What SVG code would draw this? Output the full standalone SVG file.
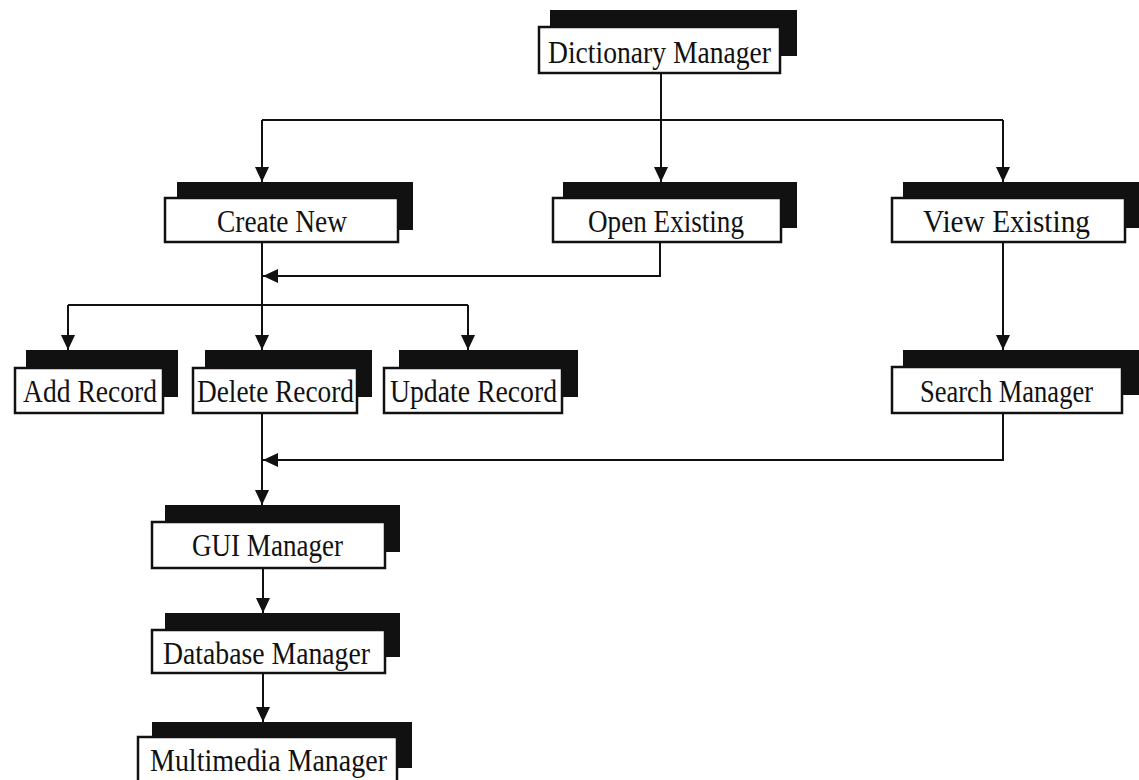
<svg xmlns="http://www.w3.org/2000/svg" width="1139" height="780" viewBox="0 0 1139 780">
<style>
.sh{fill:#111;}
.bx{fill:#fff;stroke:#111;stroke-width:2.5;}
.t{font-family:"Liberation Serif","Times New Roman",serif;font-size:32px;fill:#111;text-anchor:start;}
.c{fill:none;stroke:#111;stroke-width:2;}
</style>
<defs>
<marker id="ah" markerUnits="userSpaceOnUse" markerWidth="16" markerHeight="14" refX="15" refY="7" orient="auto">
<path d="M0,0 L15,7 L0,14 z" fill="#111"/>
</marker>
</defs>
<rect width="1139" height="780" fill="#fff"/>
<g id="connectors">
<path class="c" d="M661,73 V120"/>
<path class="c" d="M262,120 H1003"/>
<path class="c" d="M262,120 V182" marker-end="url(#ah)"/>
<path class="c" d="M661,120 V182" marker-end="url(#ah)"/>
<path class="c" d="M1003,120 V182" marker-end="url(#ah)"/>
<path class="c" d="M262,242 V350" marker-end="url(#ah)"/>
<path class="c" d="M660,242 V276 H263" marker-end="url(#ah)"/>
<path class="c" d="M68,305 H468"/>
<path class="c" d="M68,305 V350" marker-end="url(#ah)"/>
<path class="c" d="M468,305 V350" marker-end="url(#ah)"/>
<path class="c" d="M1003,242 V350" marker-end="url(#ah)"/>
<path class="c" d="M262,413 V505" marker-end="url(#ah)"/>
<path class="c" d="M1003,413 V460 H263" marker-end="url(#ah)"/>
<path class="c" d="M263,568 V613" marker-end="url(#ah)"/>
<path class="c" d="M263,673 V722" marker-end="url(#ah)"/>
</g>
<g id="dictionary-manager">
<rect class="sh" x="550" y="10" width="247" height="46"/>
<rect class="bx" x="539" y="27" width="241" height="46"/>
<text class="t" x="548" y="63" textLength="223" lengthAdjust="spacingAndGlyphs">Dictionary Manager</text>
</g>
<g id="create-new">
<rect class="sh" x="177" y="182" width="236" height="48"/>
<rect class="bx" x="165" y="198" width="233" height="44"/>
<text class="t" x="217" y="232" textLength="130" lengthAdjust="spacingAndGlyphs">Create New</text>
</g>
<g id="open-existing">
<rect class="sh" x="563" y="182" width="234" height="46"/>
<rect class="bx" x="553" y="198" width="228" height="44"/>
<text class="t" x="588" y="232" textLength="156" lengthAdjust="spacingAndGlyphs">Open Existing</text>
</g>
<g id="view-existing">
<rect class="sh" x="903" y="182" width="236" height="46"/>
<rect class="bx" x="892" y="198" width="233" height="44"/>
<text class="t" x="923" y="232" textLength="167" lengthAdjust="spacingAndGlyphs">View Existing</text>
</g>
<g id="add-record">
<rect class="sh" x="26" y="350" width="152" height="47"/>
<rect class="bx" x="15" y="368" width="148" height="45"/>
<text class="t" x="23" y="402" textLength="134" lengthAdjust="spacingAndGlyphs">Add Record</text>
</g>
<g id="delete-record">
<rect class="sh" x="205" y="350" width="167" height="47"/>
<rect class="bx" x="193" y="368" width="164" height="45"/>
<text class="t" x="197" y="402" textLength="157" lengthAdjust="spacingAndGlyphs">Delete Record</text>
</g>
<g id="update-record">
<rect class="sh" x="399" y="350" width="179" height="47"/>
<rect class="bx" x="384" y="368" width="178" height="45"/>
<text class="t" x="390" y="402" textLength="167" lengthAdjust="spacingAndGlyphs">Update Record</text>
</g>
<g id="search-manager">
<rect class="sh" x="903" y="350" width="236" height="45"/>
<rect class="bx" x="892" y="367" width="230" height="46"/>
<text class="t" x="920" y="402" textLength="173" lengthAdjust="spacingAndGlyphs">Search Manager</text>
</g>
<g id="gui-manager">
<rect class="sh" x="165" y="505" width="235" height="47"/>
<rect class="bx" x="152" y="522" width="233" height="46"/>
<text class="t" x="192" y="556" textLength="151" lengthAdjust="spacingAndGlyphs">GUI Manager</text>
</g>
<g id="database-manager">
<rect class="sh" x="165" y="613" width="235" height="44"/>
<rect class="bx" x="152" y="630" width="233" height="43"/>
<text class="t" x="163" y="664" textLength="207" lengthAdjust="spacingAndGlyphs">Database Manager</text>
</g>
<g id="multimedia-manager">
<rect class="sh" x="152" y="722" width="260" height="46"/>
<rect class="bx" x="138" y="737" width="259" height="50"/>
<text class="t" x="150" y="771" textLength="237" lengthAdjust="spacingAndGlyphs">Multimedia Manager</text>
</g>
</svg>
